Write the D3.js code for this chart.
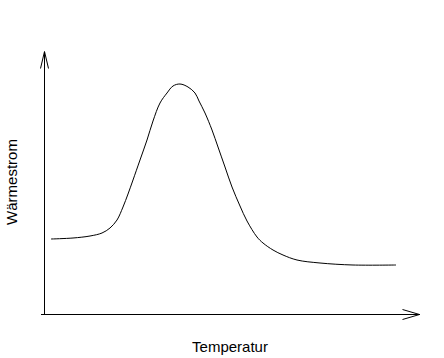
<!DOCTYPE html>
<html>
<head>
<meta charset="utf-8">
<script src="https://cdn.jsdelivr.net/npm/d3@7.9.0/dist/d3.min.js"></script>
<style>
  body { margin: 0; background: #fff; }
  svg { display: block; }
  text { font-family: "Liberation Sans", Arial, sans-serif; font-size: 15px; fill: #000; }
</style>
</head>
<body>
<svg id="chart" width="444" height="358"></svg>
<script>
// curve (arbitrary units)
const temperature = [7, 29, 46, 58, 66, 73, 79, 84, 89, 96, 103, 109, 116, 123, 129, 136,
  144, 151, 155, 161, 168, 174, 181, 188, 196, 203, 213, 219, 229, 239, 253, 276, 309, 352];
const heatFlow = [75, 76, 78, 81, 86, 94, 107, 120, 134, 154, 174, 193, 211, 221, 228, 230,
  227, 221, 213, 201, 184, 167, 147, 127, 108, 93, 77, 71, 64, 59, 54, 51, 49, 49];
const xLabel = 'Temperatur';
const yLabel = 'Wärmestrom';

const svg = d3.select('#chart');

let x = d3.scaleLinear().domain([0, 375]).range([44.5, 419.5]);
let y = d3.scaleLinear().domain([0, 263]).range([314.5, 51.5]);

// axes with open arrowheads
let axes = svg.append('g')
  .attr('fill', 'none')
  .attr('stroke', '#000')
  .attr('stroke-width', 1)
  .attr('shape-rendering', 'crispEdges');

let x0 = x(0), y0 = y(0), xEnd = x.range()[1], yEnd = y.range()[1];

axes.append('line').attr('x1', x0).attr('y1', y0).attr('x2', x0).attr('y2', yEnd);
axes.append('line').attr('x1', x0 - 4).attr('y1', y0).attr('x2', xEnd).attr('y2', y0);

let arrow = d3.line();
axes.append('path').attr('shape-rendering', 'auto')
  .attr('d', arrow([[x0 - 4, yEnd + 17], [x0, yEnd], [x0 + 4, yEnd + 17]]));
axes.append('path').attr('shape-rendering', 'auto')
  .attr('d', arrow([[xEnd - 17, y0 - 5], [xEnd, y0], [xEnd - 17, y0 + 5]]));

// the curve
let data = temperature.map((t, i) => ({ t: t, h: heatFlow[i] }));
let line = d3.line()
  .x(d => x(d.t) - 0.5)
  .y(d => y(d.h) - 0.5)
  .curve(d3.curveCatmullRom.alpha(0.5));

svg.append('path')
  .datum(data)
  .attr('d', line)
  .attr('fill', 'none')
  .attr('stroke', '#000')
  .attr('stroke-width', 1);

// labels
svg.append('text')
  .attr('x', 230)
  .attr('y', 352)
  .attr('text-anchor', 'middle')
  .text(xLabel);

svg.append('text')
  .attr('transform', 'translate(17,182) rotate(-90)')
  .attr('text-anchor', 'middle')
  .text(yLabel);
</script>
</body>
</html>
